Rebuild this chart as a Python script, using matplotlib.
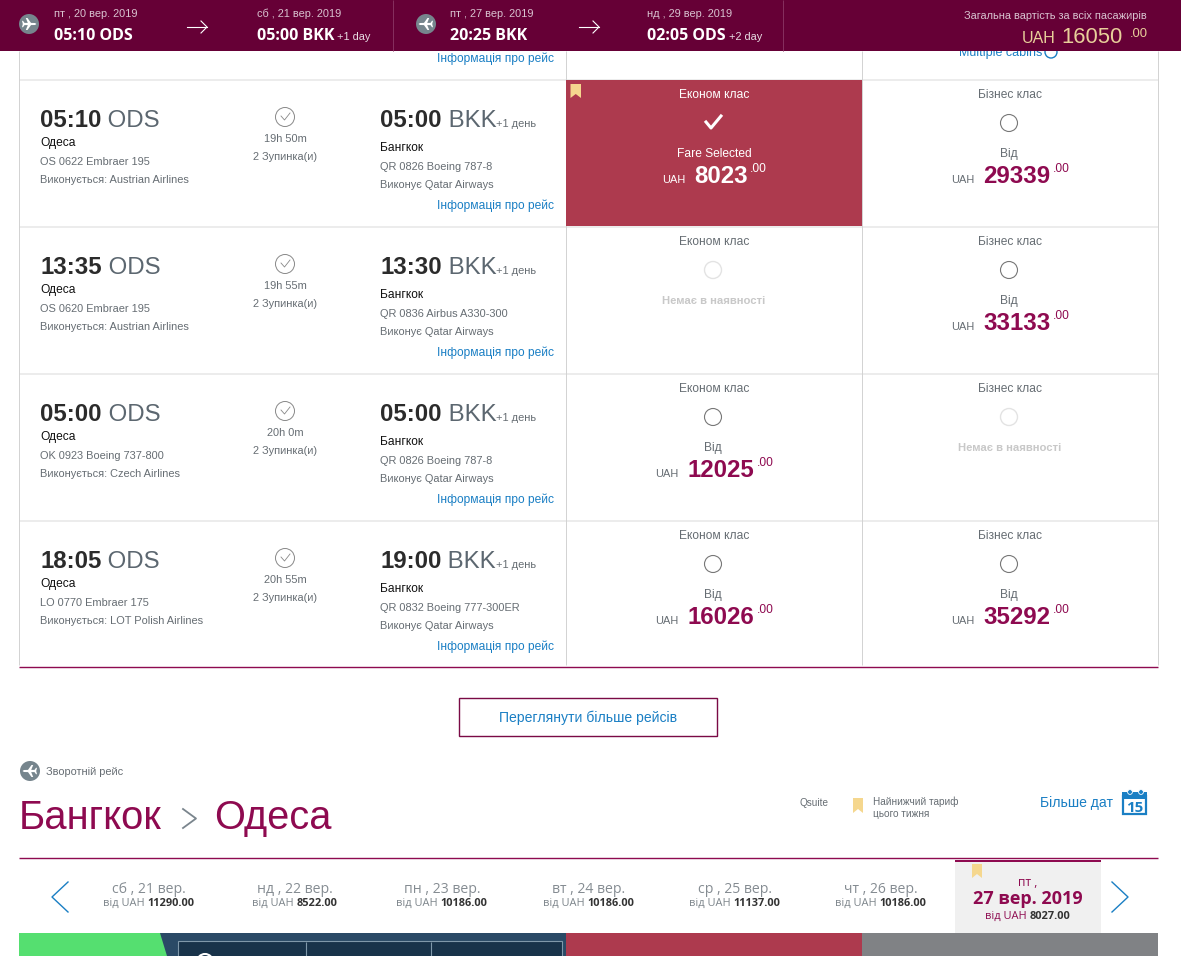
import matplotlib
matplotlib.use("Agg")
import matplotlib.pyplot as plt
from matplotlib.patches import Rectangle, Circle, Polygon

W, H = 1181, 956

# ---------- DATA ----------
dep_times = ["05:10", "13:35", "05:00", "18:05"]
arr_times = ["05:00", "13:30", "05:00", "19:00"]
durations = ["19h 50m", "19h 55m", "20h 0m", "20h 55m"]
dep_flights = ["OS 0622 Embraer 195", "OS 0620 Embraer 195", "OK 0923 Boeing 737-800", "LO 0770 Embraer 175"]
dep_carriers = ["Виконується: Austrian Airlines", "Виконується: Austrian Airlines",
                "Виконується: Czech Airlines", "Виконується: LOT Polish Airlines"]
arr_flights = ["QR 0826 Boeing 787-8", "QR 0836 Airbus A330-300", "QR 0826 Boeing 787-8", "QR 0832 Boeing 777-300ER"]
eco_prices = ["8023", None, "12025", "16026"]
bus_prices = ["29339", "33133", None, "35292"]

strip_days = ["сб , 21 вер.", "нд , 22 вер.", "пн , 23 вер.", "вт , 24 вер.", "ср , 25 вер.", "чт , 26 вер."]
strip_prices = ["11290.00", "8522.00", "10186.00", "10186.00", "11137.00", "10186.00"]

header_dates = ["пт , 20 вер. 2019", "сб , 21 вер. 2019", "пт , 27 вер. 2019", "нд , 29 вер. 2019"]
header_times = ["05:10 ODS", "05:00 BKK", "20:25 BKK", "02:05 ODS"]
header_extra = [None, "+1 day", None, "+2 day"]

# ---------- COLOURS ----------
MAROON = "#660036"
PLUM = "#8e0a50"
RED = "#ad3a4e"
BLUE = "#1a7fc4"
GREY = "#666d73"
GOLD = "#f5d78e"

fig = plt.figure(figsize=(W / 100, H / 100), dpi=100, facecolor="white")
ax = fig.add_axes([0, 0, 1, 1])
ax.set_xlim(0, W)
ax.set_ylim(H, 0)
ax.axis("off")
renderer = fig.canvas.get_renderer()


def txt(x, y, s, px, color="#333333", bold=False, ha="left", font="Liberation Sans", z=5):
    return ax.text(x, y, s, fontsize=px * 0.72, color=color, ha=ha, va="baseline",
                   fontweight="bold" if bold else "normal", family=font, zorder=z)


def inline(x, y, parts, center=False, z=5):
    # parts = (string, px, colour, bold, font), drawn one after the other
    items = [txt(0, y, s, px, c, b, font=f, z=z) for s, px, c, b, f in parts]
    widths = [t.get_window_extent(renderer).width for t in items]
    if center:
        x = x - sum(widths) / 2
    for t, w in zip(items, widths):
        t.set_x(x)
        x += w


def rect(x0, y0, x1, y1, color, z=1):
    ax.add_patch(Rectangle((x0, y0), x1 - x0, y1 - y0, facecolor=color, edgecolor="none", zorder=z))


def bookmark(x, y, w=10, h=14):
    ax.add_patch(Polygon([(x, y), (x + w, y), (x + w, y + h), (x + w / 2, y + h - 4), (x, y + h)],
                         facecolor=GOLD, edgecolor="none", zorder=4))


def plane_icon(x, y, flip=False, z=5):
    ax.add_patch(Circle((x, y), 10, facecolor="#76858d", edgecolor="none", zorder=z))
    # plane seen from above, nose to the right
    half = [(7.5, 0), (6, -1), (2, -1.1), (-1.5, -6), (-3.2, -6), (-1.2, -1.1), (-4.5, -1.1), (-6, -3.2), (-7, -3.2),
            (-6.2, 0)]
    pts = half + [(dx, -dy) for dx, dy in reversed(half[1:-1])]
    sign = -1 if flip else 1
    ax.add_patch(Polygon([(x + sign * dx, y + dy) for dx, dy in pts], facecolor="white", edgecolor="none",
                         zorder=z + 1))


def arrow(x0, x1, y, color="white", size=6):
    ax.plot([x0, x1], [y, y], color=color, lw=0.8, zorder=12)
    ax.plot([x1 - size, x1, x1 - size], [y - size, y, y + size], color=color, lw=0.8, zorder=12)


def hline(y, x0=19, x1=1158, color="#ececec", lw=1.4, z=2):
    ax.plot([x0, x1], [y, y], color=color, lw=lw, zorder=z, solid_capstyle="butt")


def vline(x, y0, y1, color="#d2d2d2", lw=0.7, z=2):
    ax.plot([x, x], [y0, y1], color=color, lw=lw, zorder=z, solid_capstyle="butt")


def fare_cell(cx, top, label, price, selected=False):
    label_c = "white" if selected else GREY
    txt(cx, top + 18, label, 12, label_c, ha="center")
    if selected:
        ax.plot([cx - 8, cx - 3, cx + 7], [top + 42, top + 48, top + 36], color="white", lw=2.2, zorder=5)
        txt(cx, top + 77, "Fare Selected", 12, "white", ha="center")
    elif price is None:
        ax.add_patch(Circle((cx - 1, top + 43), 8.5, facecolor="white", edgecolor="#e3e3e3", lw=1, zorder=5))
        txt(cx, top + 77, "Немає в наявності", 11.3, "#c8c8c8", True, ha="center")
        return
    else:
        ax.add_patch(Circle((cx - 1, top + 43), 8.5, facecolor="white", edgecolor="#777777", lw=0.8, zorder=5))
        txt(cx - 1, top + 77, "Від", 12, GREY, ha="center")
    # price block is centred on the cell: UAH, amount, raised .00
    w = 23 + 9 + len(price) * 13.35 + 2 + 16
    x = cx - w / 2
    num_c = "white" if selected else PLUM
    txt(x, top + 103, "UAH", 11, "white" if selected else GREY)
    txt(x + 32, top + 103, price, 24, num_c, True)
    txt(x + 34 + len(price) * 13.35, top + 92, ".00", 12, num_c)


# ---------- FLIGHT TABLE ----------
row_tops = [80, 227, 374, 521]
hline(80)
for i, top in enumerate(row_tops):
    is_sel = i == 0
    if is_sel:
        rect(566, top, 862, top + 146, RED, z=3)
        bookmark(570.5, top + 4, 10.5, 14)
    inline(40, top + 47, [(dep_times[i], 24, "#2b2b2b", True, "Liberation Sans"),
                          (" ODS", 24, "#5c6770", False, "Liberation Sans")])
    txt(40, top + 66, "Одеса", 12, "#111111")
    txt(40, top + 85, dep_flights[i], 11, GREY)
    txt(40, top + 103, dep_carriers[i], 11, GREY)

    ax.add_patch(Circle((285, top + 37), 9.5, facecolor="white", edgecolor="#888888", lw=0.7, zorder=5))
    ax.plot([281, 284.5, 290], [top + 36, top + 40, top + 33], color="#888888", lw=0.6, zorder=6)
    txt(285, top + 62, durations[i], 11, GREY, ha="center")
    txt(285, top + 80, "2 Зупинка(и)", 11, GREY, ha="center")

    inline(380, top + 47, [(arr_times[i], 24, "#2b2b2b", True, "Liberation Sans"),
                           (" BKK", 24, "#5c6770", False, "Liberation Sans"),
                           ("+1 день", 11, GREY, False, "Liberation Sans")])
    txt(380, top + 71, "Бангкок", 12, "#111111")
    txt(380, top + 90, arr_flights[i], 11, GREY)
    txt(380, top + 108, "Виконує Qatar Airways", 11, GREY)
    txt(554, top + 129, "Інформація про рейс", 12, BLUE, ha="right")

    fare_cell(714, top, "Економ клас", eco_prices[i], selected=is_sel)
    fare_cell(1010, top, "Бізнес клас", bus_prices[i])
    if i < 3:
        hline(top + 147)

hline(667, color=PLUM, lw=1.0, z=3)
for x in [19, 566, 862, 1158]:
    vline(x, 51, 665)

# row cut off by the sticky header
txt(554, 62, "Інформація про рейс", 12, BLUE, ha="right")
txt(959, 56, "Multiple cabins", 12.5, BLUE)
ax.add_patch(Circle((1051, 52), 6, facecolor="none", edgecolor=BLUE, lw=1, zorder=4))

# ---------- STICKY HEADER ----------
rect(0, 0, W, 51, MAROON, z=10)
vline(393, 0, 51, "#87305f", 0.7, z=11)
vline(783, 0, 51, "#87305f", 0.7, z=11)
plane_icon(29, 24, z=11)
plane_icon(426, 24, flip=True, z=11)
arrow(187, 207, 27)
arrow(579, 599, 27)
for x, d, t, e in zip([54, 257, 450, 647], header_dates, header_times, header_extra):
    txt(x, 17, d, 11, "#d8c2cf", z=12)
    parts = [(t, 16, "white", True, "Open Sans")]
    if e:
        parts.append((" " + e, 11, "#e8dce3", False, "Liberation Sans"))
    inline(x, 40, parts, z=12)
txt(1147, 19, "Загальна вартість за всіх пасажирів", 11, "#d8c2cf", ha="right", z=12)
txt(1022, 43, "UAH", 16, "#e8cf9a", z=12)
txt(1061, 43, "16050", 22, "#e8cf9a", z=12)
txt(1130, 37, ".00", 13, "#e8cf9a", z=12)

# ---------- MORE FLIGHTS BUTTON ----------
ax.add_patch(Rectangle((459, 698), 258, 38, facecolor="white", edgecolor="#7a0a45", lw=1, zorder=3))
txt(588.5, 722, "Переглянути більше рейсів", 14, BLUE, ha="center")

# ---------- RETURN HEADING ----------
plane_icon(30, 771, flip=True)
txt(46, 775, "Зворотній рейс", 11, GREY)
txt(19, 829, "Бангкок", 40, PLUM)
txt(214.5, 829, "Одеса", 39.7, PLUM)
ax.plot([183, 196, 183], [809, 818.5, 828], color="#7a858d", lw=1.3, zorder=5)

txt(799, 806, "Qsuite", 10, GREY)
bookmark(853, 798, 10, 15)
txt(873, 805, "Найнижчий тариф", 10, GREY)
txt(873, 817, "цього тижня", 10, GREY)
txt(1040, 807, "Більше дат", 14, BLUE)
ax.add_patch(Rectangle((1123, 796), 23, 18, facecolor="white", edgecolor=BLUE, lw=1.6, zorder=5))
rect(1122, 792, 1147, 799, BLUE, z=6)
for x in [1130, 1141]:
    ax.add_patch(Circle((x, 792), 2.4, facecolor=BLUE, edgecolor="white", lw=0.6, zorder=7))
txt(1134.5, 812, "15", 15, BLUE, True, ha="center", font="Open Sans", z=7)

hline(858, color=PLUM, lw=1.0)

# ---------- DATE STRIP ----------
ax.plot([68, 52, 68], [882, 897, 912], color=BLUE, lw=1.0, zorder=5)
ax.plot([1112, 1128, 1112], [882, 897, 912], color=BLUE, lw=1.0, zorder=5)
strip_x = [149, 295, 442, 589, 735, 881]
for x, d, p in zip(strip_x, strip_days, strip_prices):
    txt(x, 893, d, 14, "#858c92", ha="center", font="Open Sans")
    inline(x, 906, [("від UAH ", 11, "#7d858b", False, "Open Sans"),
                    (p, 11, "#333333", True, "Open Sans")], center=True)

rect(955, 860, 1101, 933, "#f0f0f0", z=2)
rect(955, 860, 1101, 862, PLUM, z=3)
bookmark(972, 864, 10, 14)
txt(1028, 886, "пт ,", 12, PLUM, ha="center", font="Open Sans")
txt(1028, 904, "27 вер. 2019", 18, PLUM, True, ha="center", font="Open Sans")
inline(1028, 919, [("від UAH ", 11, PLUM, False, "Open Sans"),
                   ("8027.00", 11, "#333333", True, "Open Sans")], center=True)

# ---------- NEXT ROW, CUT OFF AT THE BOTTOM ----------
rect(19, 933, 566, H, "#2a4a66", z=2)
ax.add_patch(Polygon([(19, 933), (160, 933), (167, H), (19, H)], facecolor="#55df70", edgecolor="none", zorder=3))
ax.add_patch(Rectangle((178, 941), 384, 20, facecolor="#18334a", edgecolor="#7f98aa", lw=0.8, zorder=3))
vline(306, 942, H, "#7f98aa", 0.8, z=4)
vline(431, 942, H, "#7f98aa", 0.8, z=4)
ax.add_patch(Circle((205, 962), 8, facecolor="none", edgecolor="white", lw=1.5, zorder=4))
rect(566, 933, 862, H, RED, z=2)
rect(862, 933, 1158, H, "#808285", z=2)

ax.set_xlim(0, W)
ax.set_ylim(H, 0)
fig.savefig("out.png", dpi=100)
